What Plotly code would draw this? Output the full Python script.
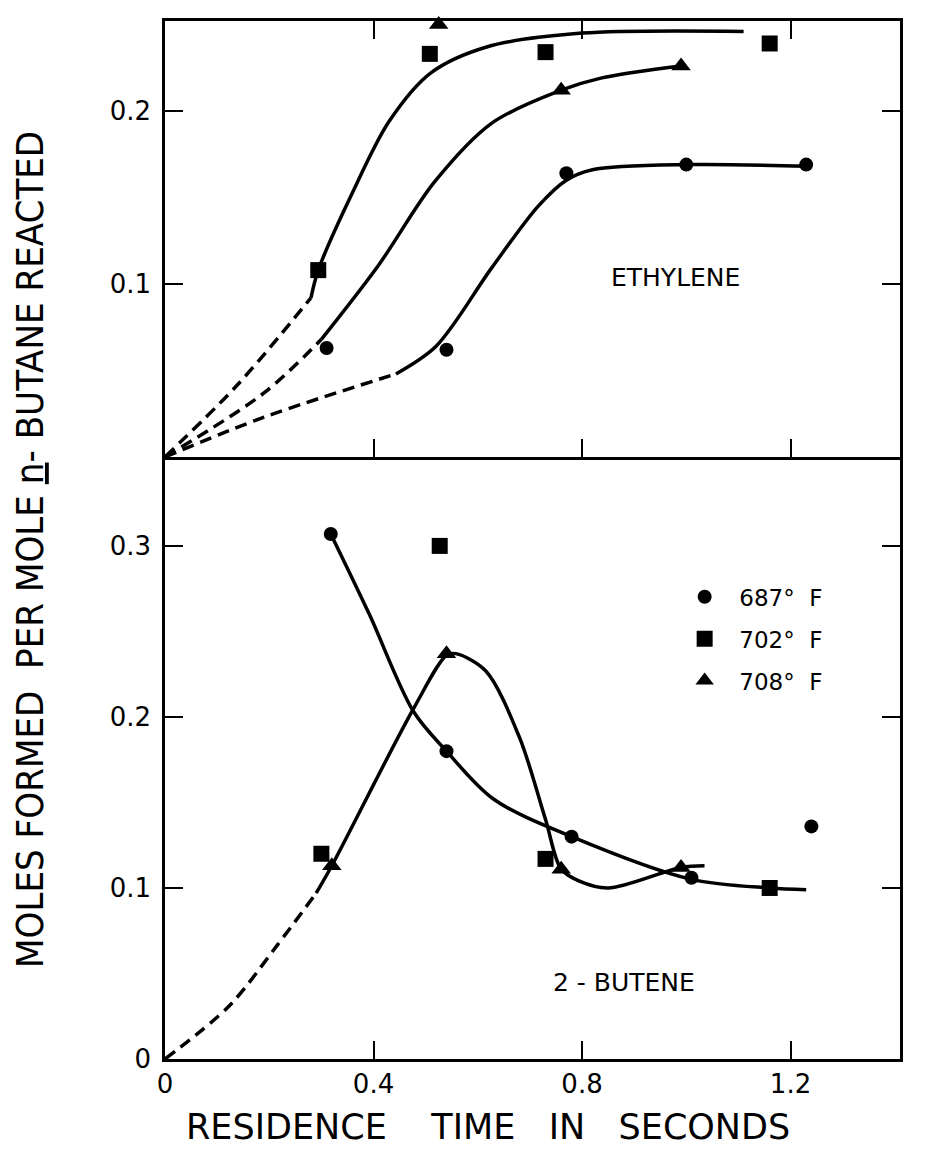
import plotly.graph_objects as go
from plotly.subplots import make_subplots

# ---------------- data ----------------
series = ["687° F", "702° F", "708° F"]
legend_names = ["\u00a0\u00a0687°\u00a0\u00a0F", "\u00a0\u00a0702°\u00a0\u00a0F", "\u00a0\u00a0708°\u00a0\u00a0F"]
symbols = ["circle", "square", "triangle-up"]
msizes = [14, 16, 17]

# Ethylene panel: measured points
eth_x = {
    "687° F": [0.31, 0.54, 0.77, 1.00, 1.23],
    "702° F": [0.294, 0.508, 0.73, 1.16],
    "708° F": [0.525, 0.76, 0.99],
}
eth_y = {
    "687° F": [0.063, 0.062, 0.164, 0.169, 0.169],
    "702° F": [0.108, 0.233, 0.234, 0.239],
    "708° F": [0.250, 0.212, 0.226],
}
# Ethylene panel: drawn curves (dashed extrapolation + solid)
eth_dash_x = {"687° F": [0, 0.19, 0.443], "702° F": [0, 0.14, 0.28], "708° F": [0, 0.19, 0.30]}
eth_dash_y = {"687° F": [0, 0.023, 0.048], "702° F": [0, 0.042, 0.092], "708° F": [0, 0.037, 0.068]}
eth_sol_x = {
    "687° F": [0.443, 0.52, 0.626, 0.716, 0.77, 0.82, 1.0, 1.23],
    "702° F": [0.28, 0.294, 0.36, 0.43, 0.51, 0.617, 0.80, 1.11],
    "708° F": [0.30, 0.41, 0.517, 0.627, 0.76, 0.836, 0.99],
}
eth_sol_y = {
    "687° F": [0.048, 0.064, 0.109, 0.145, 0.160, 0.166, 0.169, 0.168],
    "702° F": [0.092, 0.108, 0.153, 0.194, 0.222, 0.237, 0.245, 0.246],
    "708° F": [0.068, 0.111, 0.159, 0.193, 0.212, 0.219, 0.226],
}

# 2-Butene panel: measured points
but_x = {
    "687° F": [0.318, 0.54, 0.78, 1.01, 1.24],
    "702° F": [0.30, 0.527, 0.73, 1.16],
    "708° F": [0.32, 0.54, 0.76, 0.99],
}
but_y = {
    "687° F": [0.307, 0.180, 0.130, 0.106, 0.136],
    "702° F": [0.120, 0.300, 0.117, 0.100],
    "708° F": [0.113, 0.237, 0.111, 0.112],
}
# 2-Butene panel: drawn curves
but_dash_x = [0, 0.123, 0.214, 0.29]
but_dash_y = [0, 0.031, 0.066, 0.097]
but_peak_x = [0.29, 0.32, 0.477, 0.54, 0.558, 0.615, 0.68, 0.73, 0.76, 0.795, 0.85, 0.99, 1.035]
but_peak_y = [0.097, 0.113, 0.205, 0.236, 0.237, 0.227, 0.188, 0.140, 0.111, 0.104, 0.100, 0.112, 0.113]
but_fall_x = [0.318, 0.392, 0.477, 0.54, 0.63, 0.78, 1.01, 1.16, 1.23]
but_fall_y = [0.307, 0.260, 0.203, 0.180, 0.152, 0.130, 0.105, 0.100, 0.099]

x_ticks = [0, 0.4, 0.8, 1.2]
x_ticklabels = ["0", "0.4", "0.8", "1.2"]
eth_ticks = [0.1, 0.2]
eth_ticklabels = ["0.1", "0.2"]
but_ticks = [0, 0.1, 0.2, 0.3]
but_ticklabels = ["0", "0.1", "0.2", "0.3"]

# ---------------- figure ----------------
FONT = "DejaVu Sans, Liberation Sans, sans-serif"
fig = make_subplots(rows=2, cols=1, shared_xaxes=False, vertical_spacing=0.0,
                    row_heights=[0.42, 0.58])

LW = 3.5
DASH = "12px,7px"

def curve(x, y, row, dash=None):
    fig.add_trace(go.Scatter(x=x, y=y, mode="lines",
                             line=dict(color="black", width=LW, shape="spline",
                                       smoothing=0.9, dash=dash),
                             showlegend=False, hoverinfo="skip",
                             cliponaxis=False), row=row, col=1)

for s in series:
    curve(eth_dash_x[s], eth_dash_y[s], 1, DASH)
    curve(eth_sol_x[s], eth_sol_y[s], 1)
curve(but_dash_x, but_dash_y, 2, DASH)
curve(but_peak_x, but_peak_y, 2)
curve(but_fall_x, but_fall_y, 2)

for i, s in enumerate(series):
    fig.add_trace(go.Scatter(x=eth_x[s], y=eth_y[s], mode="markers", name=legend_names[i],
                             legendgroup=s, showlegend=False, cliponaxis=False,
                             marker=dict(symbol=symbols[i], size=msizes[i], color="black")),
                  row=1, col=1)
    fig.add_trace(go.Scatter(x=but_x[s], y=but_y[s], mode="markers", name=legend_names[i],
                             legendgroup=s, showlegend=True, cliponaxis=False,
                             marker=dict(symbol=symbols[i], size=msizes[i], color="black")),
                  row=2, col=1)

axis_common = dict(showgrid=False, zeroline=False, showline=True, linecolor="black",
                   linewidth=2.5, ticks="inside", tickcolor="black", tickwidth=2,
                   ticklen=18, tickfont=dict(family=FONT, size=26, color="black"))

fig.update_xaxes(range=[0, 1.41], tickvals=x_ticks, ticktext=x_ticklabels, **axis_common)
fig.update_xaxes(showticklabels=False, mirror="ticks", row=1, col=1)
fig.update_xaxes(mirror=False, row=2, col=1)
fig.update_yaxes(mirror="ticks", ticklabelstandoff=6, **axis_common)
fig.update_yaxes(range=[0, 0.252], tickvals=eth_ticks, ticktext=eth_ticklabels, row=1, col=1)
fig.update_yaxes(range=[0, 0.352], tickvals=but_ticks, ticktext=but_ticklabels, row=2, col=1)

fig.update_layout(
    width=935, height=1160,
    margin=dict(l=165, r=35, t=21, b=101),
    paper_bgcolor="white", plot_bgcolor="white",
    showlegend=True,
    legend=dict(x=0.707, y=0.466, xanchor="left", yanchor="top",
                bgcolor="rgba(0,0,0,0)", tracegroupgap=9,
                font=dict(family=FONT, size=23, color="black")),
    annotations=[
        dict(text="ETHYLENE", x=0.98, y=0.104, xref="x", yref="y", showarrow=False,
             font=dict(family=FONT, size=25, color="black")),
        dict(text="2\u00a0-\u00a0BUTENE", x=0.88, y=0.045, xref="x2", yref="y2", showarrow=False,
             font=dict(family=FONT, size=25, color="black")),
        dict(text="MOLES FORMED  PER MOLE <u>n</u>- BUTANE REACTED", textangle=-90,
             x=(30 - 165) / 735, y=(1059 - 550) / 1038, xref="paper", yref="paper",
             xanchor="center", yanchor="middle", showarrow=False,
             font=dict(family="DejaVu Sans Condensed, Liberation Sans Narrow, DejaVu Sans, sans-serif",
                       size=38, color="black")),
        dict(text="RESIDENCE\u00a0\u00a0\u00a0\u00a0TIME\u00a0\u00a0\u00a0IN\u00a0\u00a0\u00a0SECONDS",
             x=(488 - 165) / 735, y=(1059 - 1127) / 1038, xref="paper", yref="paper",
             xanchor="center", yanchor="middle",
             showarrow=False, font=dict(family=FONT, size=35, color="black")),
    ],
)

fig.write_html("out.html")
